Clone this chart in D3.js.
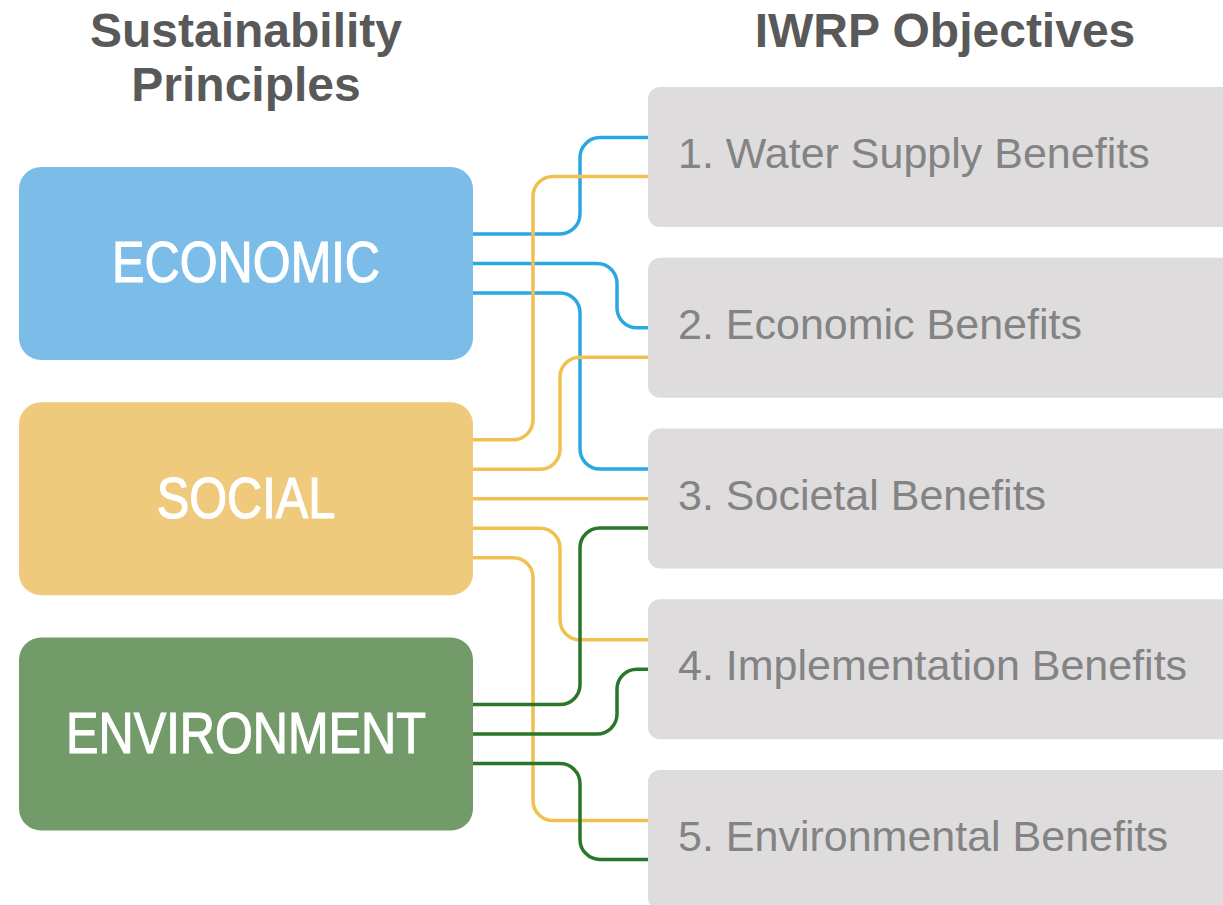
<!DOCTYPE html>
<html>
<head>
<meta charset="utf-8">
<script src="https://cdn.jsdelivr.net/npm/d3@7"></script>
<style>
  body { margin: 0; background: #fff; }
  svg { display: block; }
</style>
</head>
<body>
<svg id="viz"></svg>
<script>
var width = 1223;
var height = 905;

// data
var principles = ["ECONOMIC", "SOCIAL", "ENVIRONMENT"];
var objectives = [
  "1. Water Supply Benefits",
  "2. Economic Benefits",
  "3. Societal Benefits",
  "4. Implementation Benefits",
  "5. Environmental Benefits"
];
var headers = [["Sustainability", "Principles"], ["IWRP Objectives"]];

// which principle feeds which objective (lane / slot = routing order only)
var links = [
  { from: "ECONOMIC", to: 0, lane: 2, slot: -0.66 },
  { from: "ECONOMIC", to: 1, lane: 3, slot: 0 },
  { from: "ECONOMIC", to: 2, lane: 2, slot: -1 },
  { from: "SOCIAL", to: 0, lane: 0, slot: 0.66 },
  { from: "SOCIAL", to: 1, lane: 1, slot: 1 },
  { from: "SOCIAL", to: 2, lane: -1, slot: 0 },
  { from: "SOCIAL", to: 3, lane: 1, slot: -1 },
  { from: "SOCIAL", to: 4, lane: 0, slot: -0.66 },
  { from: "ENVIRONMENT", to: 2, lane: 2, slot: 1 },
  { from: "ENVIRONMENT", to: 3, lane: 3, slot: 0 },
  { from: "ENVIRONMENT", to: 4, lane: 2, slot: 0.66 }
];

var boxColor = d3.scaleOrdinal().domain(principles).range(["#7bbde8", "#efc97c", "#729b69"]);
var lineColor = d3.scaleOrdinal().domain(principles).range(["#2aa8e0", "#f0c050", "#2a762a"]);

var svg = d3.select("#viz").attr("width", width).attr("height", height);

// layout scales
var yLeft = d3.scaleBand().domain(principles).range([167, 830.5]).paddingInner(0.18);
var yRight = d3.scaleBand().domain(d3.range(objectives.length)).range([87, 910]).paddingInner(0.18);
var leftX0 = 19, leftX1 = 473;
var rightX0 = 648, rightX1 = 1242;
var laneX = d3.scaleOrdinal().domain([0, 1, 2, 3]).range([533, 560, 580, 617]);
var portStep = 29.5;
var radius = 20;

// source port: spread links of each principle evenly
var counts = d3.rollup(links, v => v.length, d => d.from);
var seen = {};
links.forEach(function(d) {
  var k = seen[d.from] || 0;
  seen[d.from] = k + 1;
  var n = counts.get(d.from);
  d.y0 = yLeft(d.from) + yLeft.bandwidth() / 2 + (k - (n - 1) / 2) * portStep;
  d.y1 = yRight(d.to) + yRight.bandwidth() / 2 + d.slot * portStep;
});

function route(d) {
  var x0 = leftX1 - 6, x1 = rightX0 + 6;
  if (d.lane < 0 || Math.abs(d.y1 - d.y0) < 1) {
    return "M" + x0 + "," + d.y0 + "H" + x1;
  }
  var lx = laneX(d.lane);
  var s = d.y1 > d.y0 ? 1 : -1;
  var r = Math.min(radius, Math.abs(d.y1 - d.y0) / 2);
  var sw1 = s > 0 ? 1 : 0;
  var sw2 = s > 0 ? 0 : 1;
  return "M" + x0 + "," + d.y0 +
    "H" + (lx - r) +
    "A" + r + "," + r + " 0 0 " + sw1 + " " + lx + "," + (d.y0 + s * r) +
    "V" + (d.y1 - s * r) +
    "A" + r + "," + r + " 0 0 " + sw2 + " " + (lx + r) + "," + d.y1 +
    "H" + x1;
}

// connectors
svg.append("g").attr("class", "links")
  .selectAll("path")
  .data(links)
  .enter()
  .append("path")
  .attr("d", route)
  .attr("fill", "none")
  .attr("stroke", d => lineColor(d.from))
  .attr("stroke-width", 3.5);

// left boxes
var left = svg.append("g").attr("class", "principles")
  .selectAll("g")
  .data(principles)
  .enter()
  .append("g");

left.append("rect")
  .attr("x", leftX0)
  .attr("y", d => yLeft(d))
  .attr("width", leftX1 - leftX0)
  .attr("height", yLeft.bandwidth())
  .attr("rx", 22)
  .attr("fill", d => boxColor(d));

var cxLeft = (leftX0 + leftX1) / 2;
left.append("text")
  .attr("transform", d => "translate(" + cxLeft + "," + (yLeft(d) + yLeft.bandwidth() / 2 + 19) + ") scale(0.84,1)")
  .attr("text-anchor", "middle")
  .style("font-family", "'Liberation Sans', Arial, sans-serif")
  .style("font-size", "58px")
  .style("fill", "#fff")
  .style("stroke", "#fff")
  .style("stroke-width", 1.2)
  .text(d => d);

// right boxes
var right = svg.append("g").attr("class", "objectives")
  .selectAll("g")
  .data(objectives)
  .enter()
  .append("g");

right.append("rect")
  .attr("x", rightX0)
  .attr("y", (d, i) => yRight(i))
  .attr("width", rightX1 - rightX0)
  .attr("height", yRight.bandwidth())
  .attr("rx", 12)
  .attr("fill", "#dedcdd");

right.append("text")
  .attr("x", rightX0 + 30)
  .attr("y", (d, i) => yRight(i) + yRight.bandwidth() / 2 + 11)
  .style("font-family", "'Liberation Sans', Arial, sans-serif")
  .style("font-size", "43px")
  .style("fill", "#838383")
  .text(d => d);

// column headers
var headX = [cxLeft, (rightX0 + rightX1) / 2];
headers.forEach(function(lines, i) {
  svg.append("text")
    .attr("text-anchor", "middle")
    .style("font-family", "'Liberation Sans', Arial, sans-serif")
    .style("font-size", "48px")
    .style("font-weight", "bold")
    .style("fill", "#595959")
    .selectAll("tspan")
    .data(lines)
    .enter()
    .append("tspan")
    .attr("x", headX[i])
    .attr("y", (d, j) => 47 + j * 54)
    .text(d => d);
});
</script>
</body>
</html>
